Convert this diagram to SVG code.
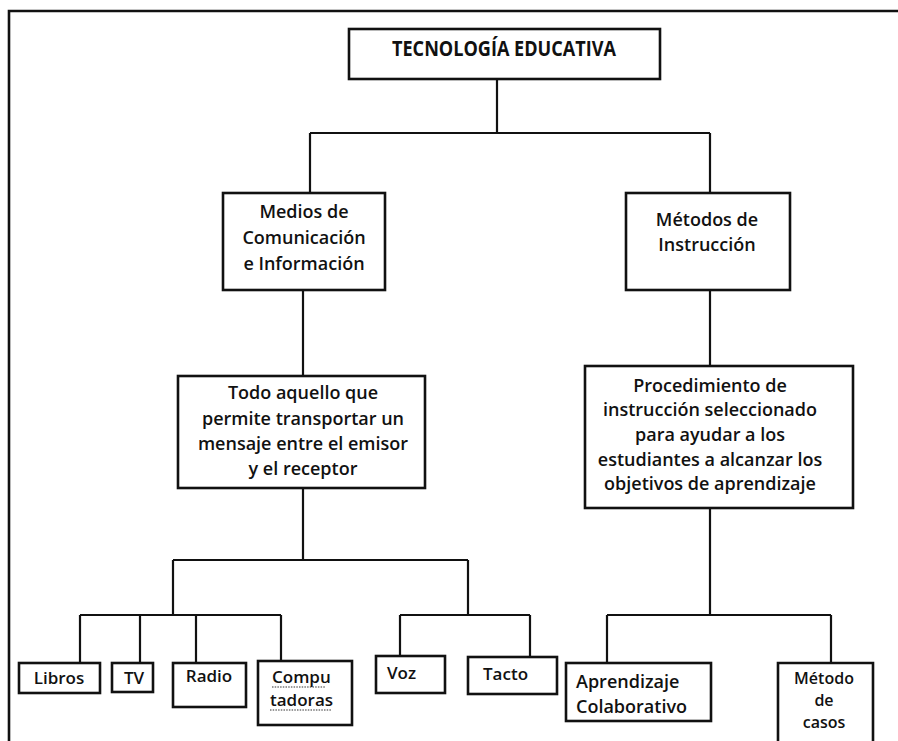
<svg xmlns="http://www.w3.org/2000/svg" width="898" height="741" viewBox="0 0 898 741">
  <style>
    .box { fill: #ffffff; stroke: #111111; stroke-width: 2.6; }
    .wire { fill: none; stroke: #111111; stroke-width: 2.2; }
    .frame { fill: none; stroke: #111111; stroke-width: 2.6; }
    text { font-family: "Open Sans", "Noto Sans", "DejaVu Sans", sans-serif; font-size: 18px; font-weight: 600; fill: #111111; }
    .mid { text-anchor: middle; }
    .title { font-size: 21px; font-weight: 700; }
    .small { font-size: 17px; }
    .tight { font-size: 16px; }
    .wavy { fill: none; stroke: #333333; stroke-width: 1.2; stroke-dasharray: 1.5 1.2; }
  </style>
  <rect width="898" height="741" fill="#ffffff"/>

  <!-- page frame: top and left edges only -->
  <path class="frame" d="M9,741 V11 H898"/>

  <!-- connectors -->
  <g id="connectors">
    <path class="wire" d="M497,79 V133 M310,133 H710 M310,133 V193 M710,133 V193"/>
    <path class="wire" d="M303,290 V376"/>
    <path class="wire" d="M710,290 V366"/>
    <path class="wire" d="M303,488 V560 M173,560 H468"/>
    <path class="wire" d="M173,560 V615 M80,615 H281 M80,615 V663 M140,615 V663 M196,615 V663 M281,615 V661"/>
    <path class="wire" d="M468,560 V615 M400,615 H530 M400,615 V656 M530,615 V657"/>
    <path class="wire" d="M710,508 V615 M607,615 H831 M607,615 V663 M831,615 V663"/>
  </g>

  <g id="tecnologia-educativa">
    <rect class="box" x="349" y="29" width="311" height="50"/>
    <text class="mid title" x="504" y="56" textLength="224" lengthAdjust="spacingAndGlyphs">TECNOLOGÍA EDUCATIVA</text>
  </g>

  <g id="medios">
    <rect class="box" x="223" y="193" width="162" height="97"/>
    <text class="mid" x="304" y="218">Medios de</text>
    <text class="mid" x="304" y="244">Comunicación</text>
    <text class="mid" x="304" y="270">e Información</text>
  </g>

  <g id="metodos">
    <rect class="box" x="626" y="193" width="164" height="97"/>
    <text class="mid" x="707" y="226">Métodos de</text>
    <text class="mid" x="707" y="251">Instrucción</text>
  </g>

  <g id="definicion-medios">
    <rect class="box" x="178" y="376" width="247" height="112"/>
    <text class="mid" x="303" y="399">Todo aquello que</text>
    <text class="mid" x="303" y="425">permite transportar un</text>
    <text class="mid" x="303" y="450">mensaje entre el emisor</text>
    <text class="mid" x="303" y="475">y el receptor</text>
  </g>

  <g id="definicion-metodos">
    <rect class="box" x="585" y="366" width="268" height="142"/>
    <text class="mid" x="710" y="392">Procedimiento de</text>
    <text class="mid" x="710" y="416">instrucción seleccionado</text>
    <text class="mid" x="710" y="441">para ayudar a los</text>
    <text class="mid" x="710" y="466">estudiantes a alcanzar los</text>
    <text class="mid" x="710" y="490">objetivos de aprendizaje</text>
  </g>

  <g id="libros">
    <rect class="box" x="19" y="663" width="81" height="30"/>
    <text class="mid small" x="59" y="684">Libros</text>
  </g>

  <g id="tv">
    <rect class="box" x="112" y="663" width="41" height="29"/>
    <text class="mid small" x="134" y="684">TV</text>
  </g>

  <g id="radio">
    <rect class="box" x="173" y="663" width="73" height="44"/>
    <text class="mid small" x="209" y="682">Radio</text>
  </g>

  <g id="computadoras">
    <rect class="box" x="258" y="661" width="94" height="64"/>
    <text class="small" x="272" y="683">Compu</text>
    <text class="small" x="270" y="706">tadoras</text>
    <path class="wavy" d="M272,687 H326 M270,710 H332"/>
  </g>

  <g id="voz">
    <rect class="box" x="376" y="656" width="69" height="37"/>
    <text class="small" x="387" y="679">Voz</text>
  </g>

  <g id="tacto">
    <rect class="box" x="468" y="657" width="89" height="37"/>
    <text class="small" x="483" y="680">Tacto</text>
  </g>

  <g id="aprendizaje-colaborativo">
    <rect class="box" x="566" y="663" width="145" height="58"/>
    <text x="576" y="688">Aprendizaje</text>
    <text x="576" y="713">Colaborativo</text>
  </g>

  <g id="metodo-casos">
    <path class="box" d="M778,745 V663 H873 V745"/>
    <text class="mid tight" x="824" y="684">Método</text>
    <text class="mid tight" x="824" y="706">de</text>
    <text class="mid tight" x="824" y="728">casos</text>
  </g>
</svg>
